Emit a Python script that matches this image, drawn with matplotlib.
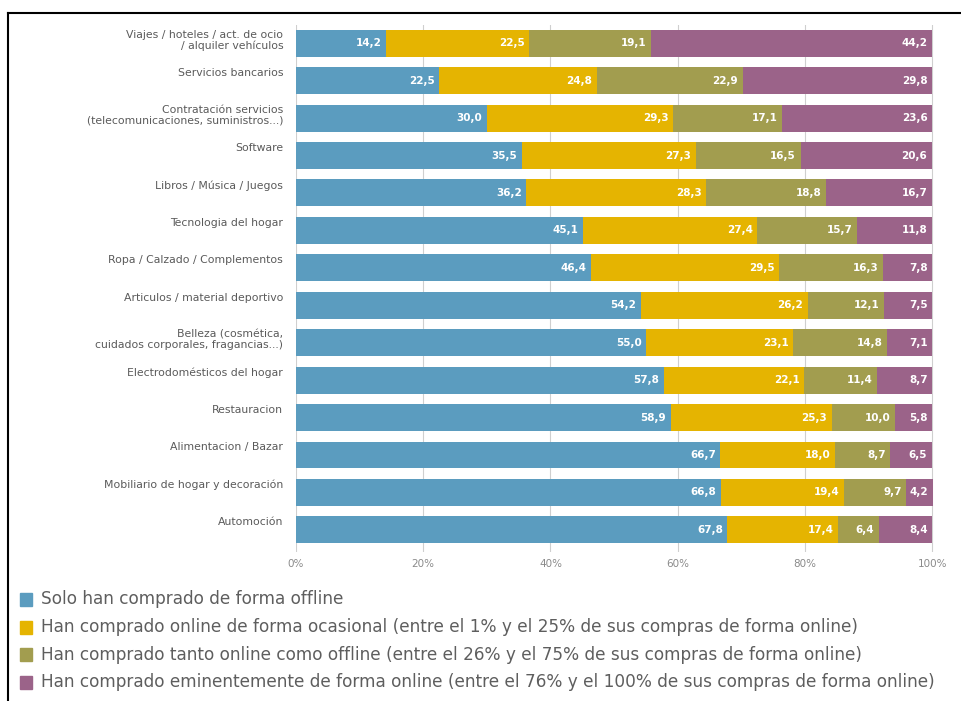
import matplotlib.pyplot as plt
from matplotlib.lines import Line2D
from matplotlib.patches import Rectangle

plt.rcParams["font.family"] = ["DejaVu Sans"]

categories = [
    "Viajes / hoteles / act. de ocio\n/ alquiler vehículos",
    "Servicios bancarios",
    "Contratación servicios\n(telecomunicaciones, suministros...)",
    "Software",
    "Libros / Música / Juegos",
    "Tecnologia del hogar",
    "Ropa / Calzado / Complementos",
    "Articulos / material deportivo",
    "Belleza (cosmética,\ncuidados corporales, fragancias...)",
    "Electrodomésticos del hogar",
    "Restauracion",
    "Alimentacion / Bazar",
    "Mobiliario de hogar y decoración",
    "Automoción",
]

offline = [14.2, 22.5, 30.0, 35.5, 36.2, 45.1, 46.4, 54.2, 55.0, 57.8, 58.9, 66.7, 66.8, 67.8]
ocasional = [22.5, 24.8, 29.3, 27.3, 28.3, 27.4, 29.5, 26.2, 23.1, 22.1, 25.3, 18.0, 19.4, 17.4]
mixto = [19.1, 22.9, 17.1, 16.5, 18.8, 15.7, 16.3, 12.1, 14.8, 11.4, 10.0, 8.7, 9.7, 6.4]
online = [44.2, 29.8, 23.6, 20.6, 16.7, 11.8, 7.8, 7.5, 7.1, 8.7, 5.8, 6.5, 4.2, 8.4]

series_labels = [
    "Solo han comprado de forma offline",
    "Han comprado online de forma ocasional (entre el 1% y el 25% de sus compras de forma online)",
    "Han comprado tanto online como offline (entre el 26% y el 75% de sus compras de forma online)",
    "Han comprado eminentemente de forma online (entre el 76% y el 100% de sus compras de forma online)",
]
colors = ["#5b9cbf", "#e5b401", "#a29d4f", "#9b6389"]
ticks = [0, 20, 40, 60, 80, 100]

fig = plt.figure(figsize=(9.62, 7.01), dpi=100)
ax = fig.add_axes([0.3077, 0.2126, 0.6653, 0.7514])

bar_h = 0.72
y = list(range(len(categories)))
left = [0.0] * len(categories)
for vals, color in zip([offline, ocasional, mixto, online], colors):
    ax.barh(y, vals, left=left, height=bar_h, color=color, zorder=2)
    for i, v in enumerate(vals):
        ax.text(left[i] + v - 0.7, i, f"{v:.1f}".replace(".", ","),
                ha="right", va="center", color="white", fontsize=7.5,
                fontweight="bold", zorder=3)
    left = [a + b for a, b in zip(left, vals)]

ax.set_xlim(0, 100.6)
ax.set_ylim(len(categories) - 1 + 0.59, -0.48)
ax.set_xticks(ticks)
ax.set_xticklabels([f"{t}%" for t in ticks], color="#8a8a8a", fontsize=7.5)
ax.set_yticks([])
ax.tick_params(axis="x", length=0, pad=5)
for s in ax.spines.values():
    s.set_visible(False)
ax.grid(axis="x", color="#cfcfcf", linewidth=0.8, zorder=0)

# category names sit against the top edge of each bar
for i, cat in enumerate(categories):
    ax.text(-0.02, i - bar_h / 2 + 0.02, cat, transform=ax.get_yaxis_transform(),
            ha="right", va="top", color="#5a5a5a", fontsize=7.8,
            linespacing=1.0, multialignment="right")

# legend built by hand below the axes
for k, (lab, color) in enumerate(zip(series_labels, colors)):
    ytop = 1 - (593 + 27.5 * k) / 701
    fig.patches.append(Rectangle((20 / 962, ytop - 13 / 701), 12 / 962, 13 / 701,
                                 transform=fig.transFigure, color=color))
    fig.text(41 / 962, ytop - 6.5 / 701, lab, ha="left", va="center",
             color="#5e5e5e", fontsize=12.2)

# frame lines at top and left
fig.add_artist(Line2D([8 / 962, 1], [1 - 13 / 701] * 2, color="black", linewidth=1.5))
fig.add_artist(Line2D([8 / 962] * 2, [0, 1 - 13 / 701], color="black", linewidth=1.5))

fig.savefig("out.png", dpi=100)
